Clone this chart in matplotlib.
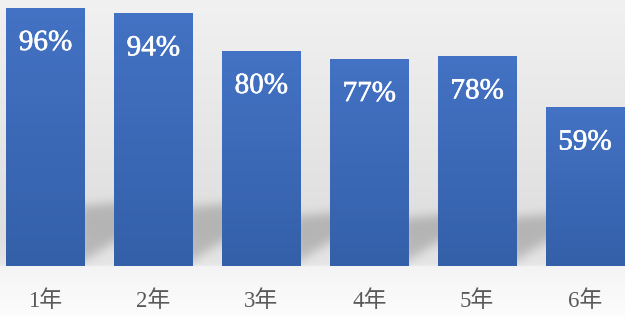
import numpy as np
import matplotlib
matplotlib.use("Agg")
import matplotlib.pyplot as plt
import matplotlib.patheffects as pe
from matplotlib.path import Path
from matplotlib.colors import LinearSegmentedColormap

categories = ["1年", "2年", "3年", "4年", "5年", "6年"]
values = [96, 94, 80, 77, 78, 59]
value_labels = ["96%", "94%", "80%", "77%", "78%", "59%"]

W, H = 625, 317
DPI = 100
fig = plt.figure(figsize=(W / DPI, H / DPI), dpi=DPI)

# ---- main axes geometry (pixels) ----
base_px = 266.0
px_per_unit = 2.6875
cat_step = 107.9
first_center = 45.5
bar_w = 0.723

ax = fig.add_axes([0, (H - base_px) / H, 1, base_px / H])
ax.set_xlim(-first_center / cat_step, 5 + (W - (first_center + 5 * cat_step)) / cat_step)
ax.set_ylim(0, base_px / px_per_unit)
ax.patch.set_alpha(0)
for s in ax.spines.values():
    s.set_visible(False)
ax.set_xticks([])
ax.set_yticks([])

# ---- background image with wall/floor gradient and bar shadows ----
yy, xx = np.mgrid[0:H, 0:W].astype(float)
wall = np.interp(yy, [0, 230, 262, 266], [0.945, 0.872, 0.90, 0.92])
floor = np.interp(yy, [266, 275, H], [0.955, 0.965, 0.99])
bg = np.where(yy < 266, wall, floor)

mask = np.zeros((H, W))
pts = np.column_stack([xx.ravel() + 0.5, yy.ravel() + 0.5])
for i, v in enumerate(values):
    xr_disp, top_disp = ax.transData.transform((i + bar_w / 2, v))
    hpx = top_disp - ax.transData.transform((0, 0))[1]
    xr = xr_disp
    ytop = base_px - 0.24 * hpx
    poly = Path([(xr - 6, base_px - 2), (xr - 6, ytop + 2), (xr + 60, ytop - 4),
                 (xr + 60, base_px - 2 - 0.62 * 66), (xr - 6, base_px - 2)])
    mask = np.maximum(mask, poly.contains_points(pts).reshape(H, W).astype(float))

def blur(img, sigma):
    r = int(3 * sigma)
    k = np.exp(-0.5 * (np.arange(-r, r + 1) / sigma) ** 2)
    k /= k.sum()
    pad = np.pad(img, r, mode="edge")
    tmp = np.apply_along_axis(lambda m: np.convolve(m, k, mode="valid"), 1, pad)
    return np.apply_along_axis(lambda m: np.convolve(m, k, mode="valid"), 0, tmp)

mask = blur(mask, 5.0)
mask[yy >= 266] = 0
img = bg * (1 - 0.19 * mask)

bgax = fig.add_axes([0, 0, 1, 1], zorder=-1)
bgax.imshow(np.dstack([img, img, img]), extent=(0, W, H, 0), aspect="auto", interpolation="bilinear")
bgax.axis("off")

# ---- gradient bars ----
cmap = LinearSegmentedColormap.from_list("bluegrad", ["#3460a9", "#4472c4"])
grad = np.linspace(0, 1, 256).reshape(-1, 1)
bars = ax.bar(range(len(values)), values, width=bar_w, color="#4472c4", linewidth=0, zorder=2)
for b in bars:
    x0, y0 = b.get_x(), b.get_y()
    im = ax.imshow(grad, extent=(x0, x0 + b.get_width(), y0, y0 + b.get_height()),
                   origin="lower", cmap=cmap, aspect="auto", zorder=3)
    im.set_clip_path(b)

# ---- value labels ----
for i, (v, lab) in enumerate(zip(values, value_labels)):
    ax.annotate(lab, xy=(i, v), xytext=(0, -35 * 72 / DPI), textcoords="offset points",
                ha="center", va="center", color="white", fontsize=21,
                family=["Liberation Serif", "DejaVu Serif"], zorder=5,
                path_effects=[pe.withStroke(linewidth=0.4, foreground="white")])

# ---- category labels ----
for i, c in enumerate(categories):
    ax.annotate(c, xy=(i, 0), xycoords=("data", "axes fraction"),
                xytext=(0, -35 * 72 / DPI), textcoords="offset points",
                ha="center", va="center", color="#595959", fontsize=16.5,
                family=["Liberation Serif", "Noto Sans CJK JP"], annotation_clip=False)

fig.savefig("out.png", dpi=DPI)
